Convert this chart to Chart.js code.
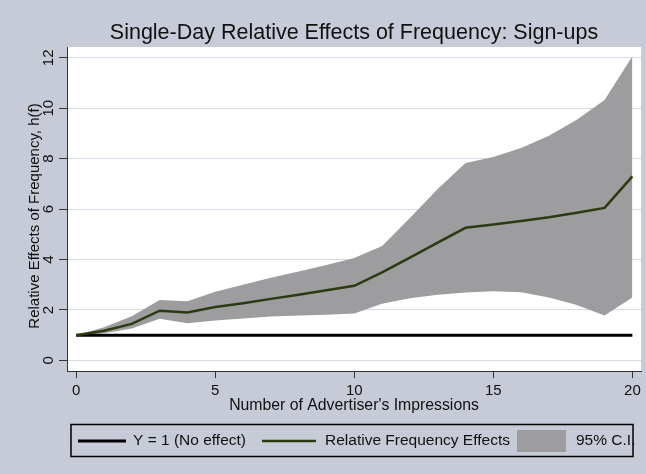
<!DOCTYPE html>
<html>
<head>
<meta charset="utf-8">
<script src="https://cdn.jsdelivr.net/npm/chart.js@4"></script>
<style>
  html, body { margin: 0; padding: 0; background: #c6cbd7; }
  canvas { display: block; }
</style>
</head>
<body>
<canvas id="c" width="646" height="474"></canvas>
<script>
// Number of advertiser impressions
const impressions = [0, 1, 2, 3, 4, 5, 6, 7, 8, 9, 10, 11, 12, 13, 14, 15, 16, 17, 18, 19, 20];
// Estimated relative frequency effect h(f)
const relEffect = [1.00, 1.18, 1.45, 1.97, 1.90, 2.12, 2.27, 2.44, 2.60, 2.78, 2.96, 3.49, 4.08, 4.67, 5.26, 5.39, 5.53, 5.68, 5.86, 6.05, 7.30];
// 95% confidence interval bounds
const ciUpper = [1.00, 1.32, 1.75, 2.40, 2.35, 2.72, 3.00, 3.28, 3.53, 3.78, 4.06, 4.54, 5.65, 6.80, 7.83, 8.07, 8.42, 8.91, 9.54, 10.33, 12.06];
const ciLower = [1.00, 1.08, 1.27, 1.65, 1.47, 1.58, 1.66, 1.74, 1.78, 1.81, 1.86, 2.25, 2.47, 2.60, 2.69, 2.74, 2.70, 2.50, 2.20, 1.78, 2.50];
// Reference line: no effect (Y = 1)
const noEffectX = [0, 20];
const noEffectY = [1, 1];

const xTicks = [0, 5, 10, 15, 20];
const yTicks = [0, 2, 4, 6, 8, 10, 12];

const titleText = 'Single-Day Relative Effects of Frequency: Sign-ups';
const xTitle = "Number of Advertiser's Impressions";
const yTitle = 'Relative Effects of Frequency, h(f)';

const FONT = '"Liberation Sans", Arial, Helvetica, sans-serif';
const BG = '#c6cbd7';
const BAND = '#9d9da0';
const GREEN = '#2c3a12';
const INK = '#111111';

const pts = (xs, ys) => xs.map((x, i) => ({ x: x, y: ys[i] }));

// Paint the page background and the white plotting region
const backdrop = {
  id: 'backdrop',
  beforeDraw(chart) {
    const { ctx, chartArea: a } = chart;
    ctx.save();
    ctx.fillStyle = BG;
    ctx.fillRect(0, 0, chart.width, chart.height);
    ctx.fillStyle = '#ffffff';
    ctx.fillRect(a.left, a.top, a.right - a.left, a.bottom - a.top);
    ctx.restore();
  }
};

// Titles, tick labels (vertical on the y axis) and the boxed legend
const annotations = {
  id: 'annotations',
  afterDraw(chart) {
    const { ctx, chartArea: a, scales } = chart;
    const xs = scales.x, ys = scales.y;
    const cx = (a.left + a.right) / 2;
    ctx.save();
    ctx.fillStyle = INK;
    ctx.textBaseline = 'middle';
    ctx.textAlign = 'center';

    ctx.font = '21.5px ' + FONT;
    ctx.fillText(titleText, cx, 33);

    ctx.font = '15px ' + FONT;
    xTicks.forEach(v => ctx.fillText(String(v), xs.getPixelForValue(v), 391));
    ctx.font = '15.8px ' + FONT;
    ctx.fillText(xTitle, cx, 406);

    ctx.font = '15px ' + FONT;
    yTicks.forEach(v => {
      ctx.save();
      ctx.translate(49, ys.getPixelForValue(v));
      ctx.rotate(-Math.PI / 2);
      ctx.fillText(String(v), 0, 0);
      ctx.restore();
    });
    ctx.save();
    ctx.translate(35, 216);
    ctx.rotate(-Math.PI / 2);
    ctx.fillText(yTitle, 0, 0);
    ctx.restore();

    // legend
    const ds = chart.data.datasets;
    const ly = 441;
    ctx.font = '15.5px ' + FONT;
    ctx.strokeStyle = '#000';
    ctx.lineWidth = 1.5;
    ctx.strokeRect(71, 424.5, 562, 32);
    ctx.textAlign = 'left';

    ctx.strokeStyle = ds[1].borderColor;
    ctx.lineWidth = 3;
    ctx.beginPath(); ctx.moveTo(78, ly); ctx.lineTo(126, ly); ctx.stroke();
    ctx.fillText(ds[1].label, 133, ly);

    ctx.strokeStyle = ds[0].borderColor;
    ctx.lineWidth = 2.5;
    ctx.beginPath(); ctx.moveTo(262, ly); ctx.lineTo(316, ly); ctx.stroke();
    ctx.fillText(ds[0].label, 325, ly);

    ctx.fillStyle = ds[2].backgroundColor;
    ctx.fillRect(517, 430, 49, 22);
    ctx.fillStyle = INK;
    ctx.fillText(ds[2].label, 576, ly);
    ctx.restore();
  }
};

new Chart(document.getElementById('c'), {
  type: 'line',
  data: {
    datasets: [
      {
        label: 'Relative Frequency Effects',
        data: pts(impressions, relEffect),
        borderColor: GREEN,
        borderWidth: 2.5,
        pointRadius: 0,
        fill: false,
        tension: 0
      },
      {
        label: 'Y = 1 (No effect)',
        data: pts(noEffectX, noEffectY),
        borderColor: '#000000',
        borderWidth: 3,
        pointRadius: 0,
        fill: false
      },
      {
        label: '95% C.I.',
        data: pts(impressions, ciUpper),
        borderWidth: 0,
        borderColor: 'rgba(0,0,0,0)',
        backgroundColor: BAND,
        pointRadius: 0,
        fill: '+1',
        tension: 0
      },
      {
        label: '95% C.I. lower',
        data: pts(impressions, ciLower),
        borderWidth: 0,
        borderColor: 'rgba(0,0,0,0)',
        pointRadius: 0,
        fill: false,
        tension: 0
      }
    ]
  },
  options: {
    responsive: false,
    animation: false,
    devicePixelRatio: 1,
    layout: { padding: { top: 47, right: 5, left: 0, bottom: 0 } },
    plugins: {
      legend: { display: false },
      title: { display: false },
      tooltip: { enabled: false }
    },
    scales: {
      x: {
        type: 'linear',
        min: -0.33,
        max: 20.31,
        afterBuildTicks: s => { s.ticks = xTicks.map(v => ({ value: v })); },
        afterFit: s => { s.height = 103; },
        ticks: { display: false },
        grid: { drawOnChartArea: false, drawTicks: true, tickLength: 7, tickColor: '#333', tickWidth: 1 },
        border: { display: true, color: '#333', width: 1 }
      },
      y: {
        type: 'linear',
        min: -0.42,
        max: 12.43,
        afterBuildTicks: s => { s.ticks = yTicks.map(v => ({ value: v })); },
        afterFit: s => { s.width = 67; },
        ticks: { display: false },
        grid: { color: '#d4dae6', lineWidth: 1, drawTicks: true, tickLength: 8, tickColor: '#333', tickWidth: 1 },
        border: { display: true, color: '#333', width: 1 }
      }
    }
  },
  plugins: [backdrop, annotations]
});
</script>
</body>
</html>
